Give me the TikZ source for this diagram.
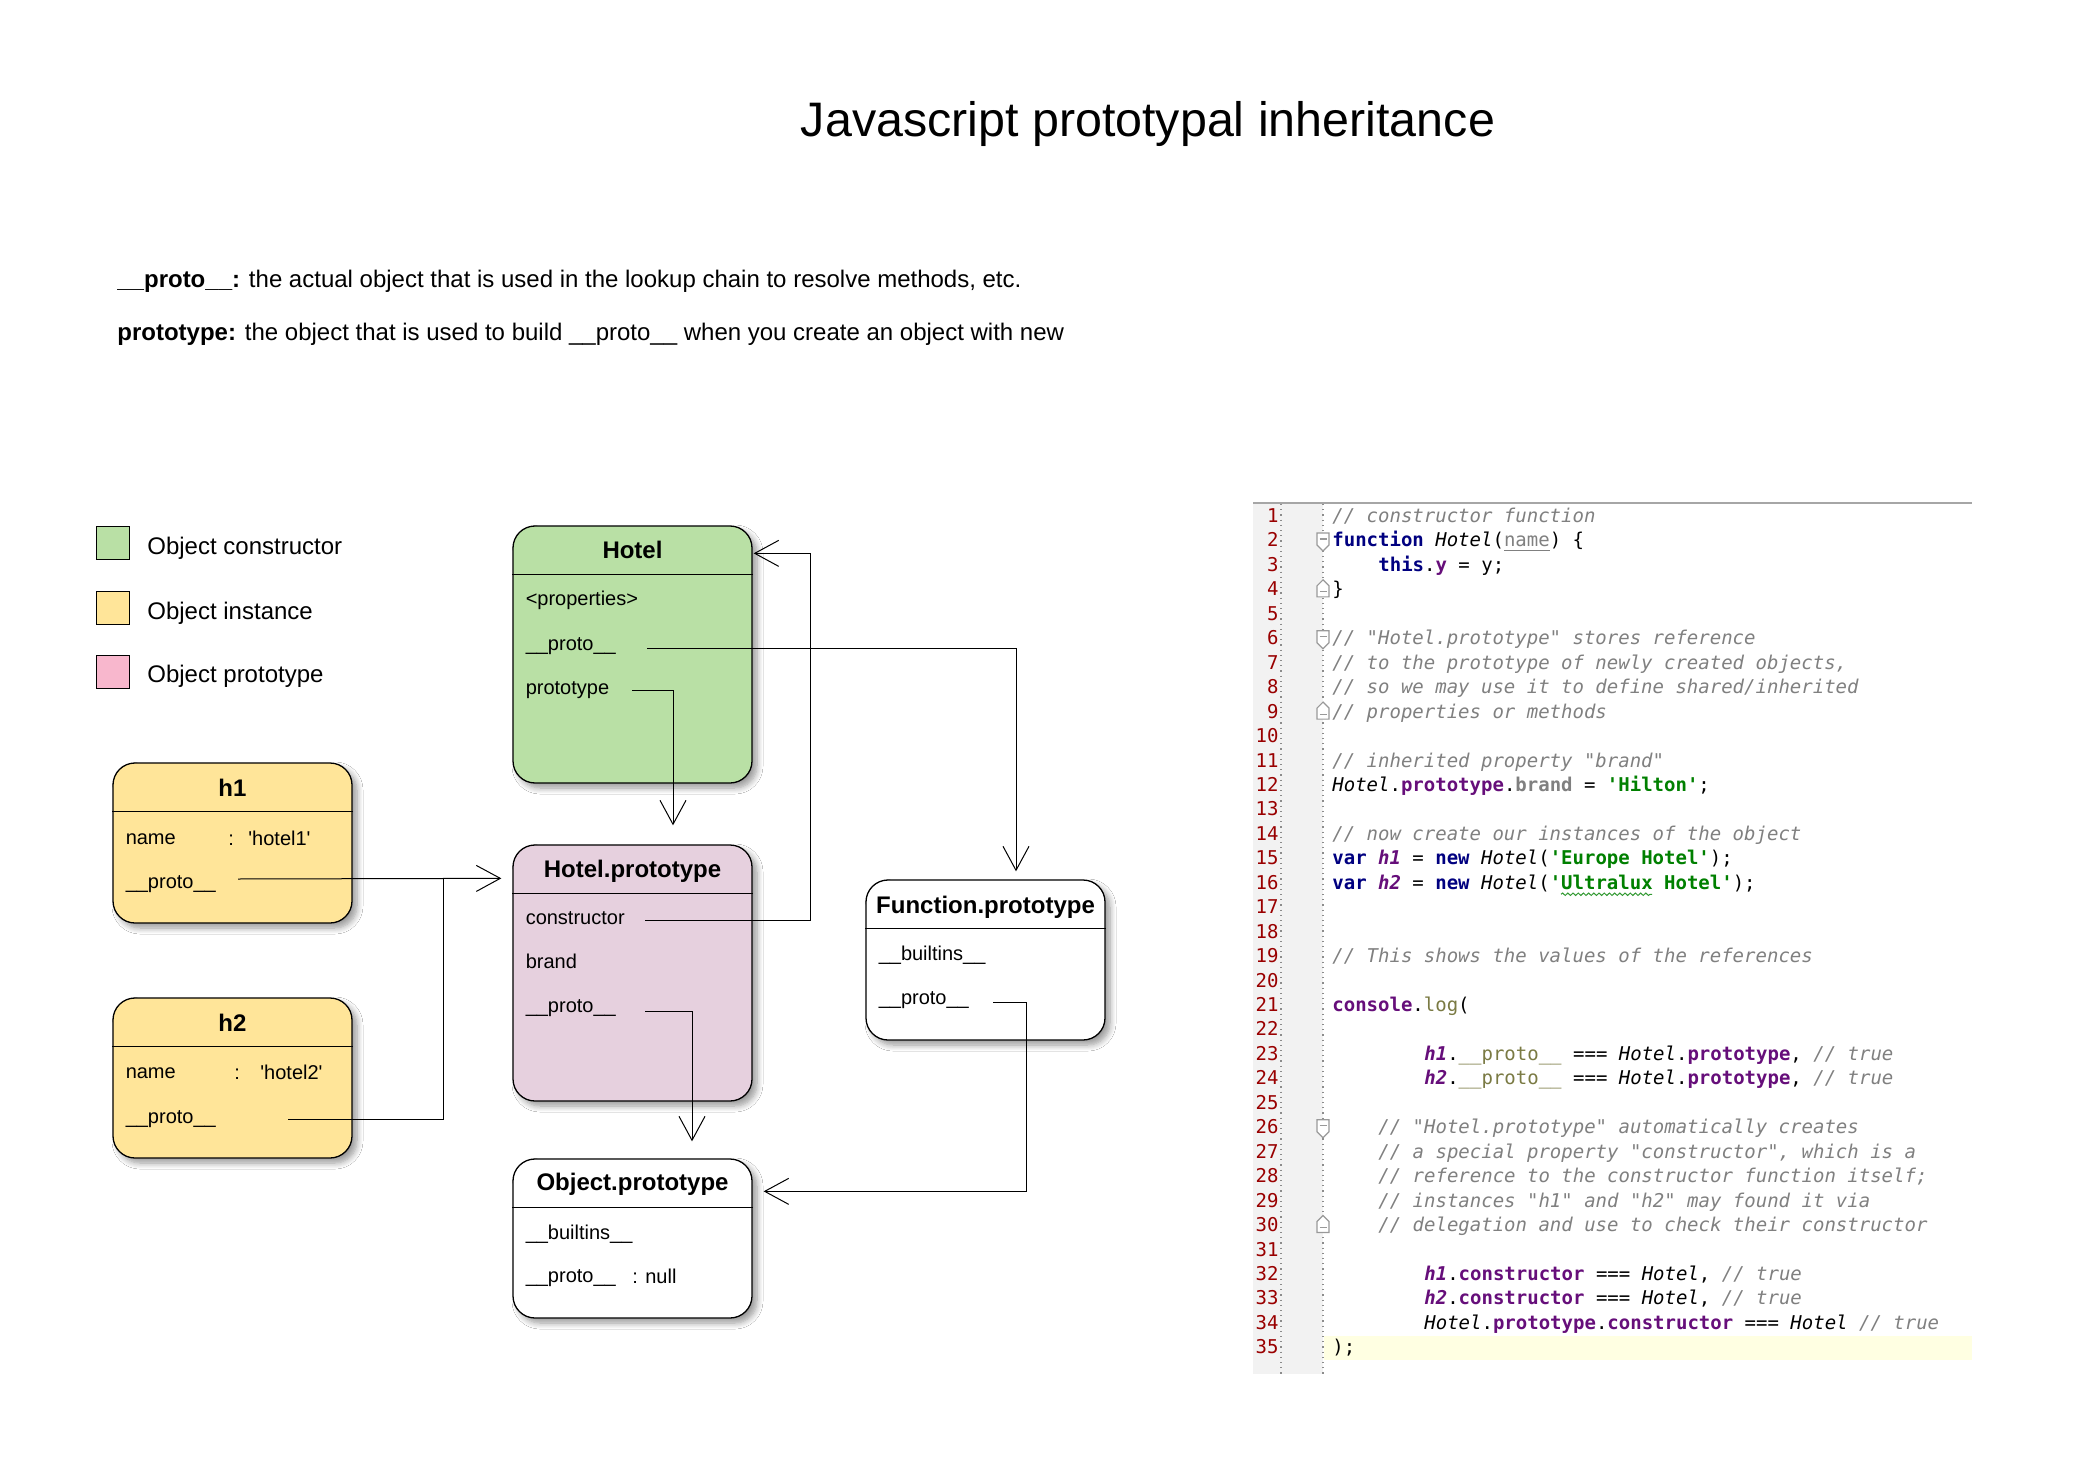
\documentclass[tikz,border=0pt]{standalone}
\usepackage{fontspec}
\setmainfont{Liberation Sans}
\setmonofont{DejaVu Sans Mono}
\usetikzlibrary{arrows.meta,calc,shadows.blur,decorations.pathmorphing}
\definecolor{hgreen}{HTML}{B9E0A5}
\definecolor{hyellow}{HTML}{FFE599}
\definecolor{hpink}{HTML}{E6D0DE}
\definecolor{lpink}{HTML}{F8B7CD}
\definecolor{ccmt}{HTML}{808080}
\definecolor{ckw}{HTML}{000080}
\definecolor{cpur}{HTML}{660E7A}
\definecolor{cstr}{HTML}{008000}
\definecolor{coli}{HTML}{7A7A43}
\definecolor{cnum}{HTML}{990000}
\definecolor{cgut}{HTML}{F2F2F2}
\definecolor{chl}{HTML}{FFFFE2}
\newcommand{\cdc}[1]{{\color{ccmt}\itshape #1}}
\newcommand{\cdk}[1]{{\color{ckw}\bfseries #1}}
\newcommand{\cdi}[1]{{\itshape #1}}
\newcommand{\cdp}[1]{{\color{cpur}\bfseries #1}}
\newcommand{\cdv}[1]{{\color{cpur}\bfseries\itshape #1}}
\newcommand{\cds}[1]{{\color{cstr}\bfseries #1}}
\newcommand{\cdo}[1]{{\color{coli}#1}}
\newcommand{\cdf}[1]{{\color{ccmt}\bfseries #1}}
\newcommand{\cdn}[1]{{\color{ccmt}\underline{#1}}}
\begin{document}
\begin{tikzpicture}[x=0.5pt,y=-0.5pt,
  box/.style={draw=black, line width=0.65pt, rounded corners=11pt, inner sep=0pt,
    minimum width=119.5pt,
    blur shadow={shadow xshift=2.5pt, shadow yshift=-2.5pt, shadow blur radius=3pt, shadow blur steps=8, shadow opacity=40}},
  btitle/.style={font=\fontsize{12}{14}\selectfont\bfseries, inner sep=0pt, anchor=base},
  brow/.style={font=\fontsize{10}{12}\selectfont, inner sep=0pt, anchor=base west},
  hline/.style={draw=black, line width=0.65pt},
  legsq/.style={draw=black, line width=0.5pt, minimum width=16.5pt, minimum height=16.5pt, inner sep=0pt},
  legtxt/.style={font=\fontsize{12}{14}\selectfont, inner sep=0pt, anchor=base west},
  line/.style={draw=black, line width=0.5pt},
  conn/.style={line, -{Straight Barb[length=12pt,width=13pt]}},
  codeln/.style={font=\ttfamily\fontsize{9.5}{11}\selectfont, inner sep=0pt, anchor=base west},
  lnum/.style={font=\ttfamily\fontsize{9.5}{11}\selectfont, text=cnum, inner sep=0pt, anchor=base east},
  fold/.style={draw=black!40, fill=white, line width=0.6pt}
]
\fill[white] (0,0) rectangle (2082,1460);
\useasboundingbox (0,0) rectangle (2082,1460);

% title and definitions
\node[font=\fontsize{24.2}{28}\selectfont, inner sep=0pt, anchor=base] (title) at (1148,137) {Javascript prototypal inheritance};
\node[font=\fontsize{12}{14}\selectfont, inner sep=0pt, anchor=base west] (def1) at (117,288) {\textbf{\_\_proto\_\_:} the actual object that is used in the lookup chain to resolve methods, etc.};
\node[font=\fontsize{12}{14}\selectfont, inner sep=0pt, anchor=base west] (def2) at (117,341) {\textbf{prototype:} the object that is used to build \_\_proto\_\_ when you create an object with new};

% legend
\node[legsq, fill=hgreen] (lg1) at (112.5,542.5) {};
\node[legsq, fill=hyellow] (lg2) at (112.5,608) {};
\node[legsq, fill=lpink] (lg3) at (112.5,671.5) {};
\node[legtxt] (lt1) at (147,554) {Object constructor};
\node[legtxt] (lt2) at (147,619) {Object instance};
\node[legtxt] (lt3) at (147,682) {Object prototype};

% boxes
\node[box, fill=hgreen, minimum height=128.5pt] (hotel) at (632.5,654.5) {};
\node[box, fill=hpink, minimum height=128pt] (hp) at (632.5,973) {};
\node[box, fill=hyellow, minimum height=80pt] (h1) at (232.5,843) {};
\node[box, fill=hyellow, minimum height=80pt] (h2) at (232.5,1078) {};
\node[box, fill=white, minimum height=80pt] (fnp) at (985.5,960) {};
\node[box, fill=white, minimum height=79.5pt] (op) at (632.5,1238.5) {};

\foreach \b in {hotel,hp,h1,h2,fnp,op}{
  \draw[hline] ($(\b.north west)+(0,49)$) -- ($(\b.north east)+(0,49)$);
}

% Hotel
\node[btitle] (hotel-t) at ($(hotel.north)+(0,33)$) {Hotel};
\node[brow] (hotel-r1) at ($(hotel.north west)+(13,80)$) {<properties>};
\node[brow] (hotel-r2) at ($(hotel.north west)+(13,125)$) {\_\_proto\_\_};
\node[brow] (hotel-r3) at ($(hotel.north west)+(13,169)$) {prototype};

% Hotel.prototype
\node[btitle] (hp-t) at ($(hp.north)+(0,33)$) {Hotel.prototype};
\node[brow] (hp-r1) at ($(hp.north west)+(13,80)$) {constructor};
\node[brow] (hp-r2) at ($(hp.north west)+(13,124)$) {brand};
\node[brow] (hp-r3) at ($(hp.north west)+(13,168)$) {\_\_proto\_\_};

% h1
\node[btitle] (h1-t) at ($(h1.north)+(0,34)$) {h1};
\node[brow] (h1-r1) at ($(h1.north west)+(13,82)$) {name};
\node[brow] (h1-c) at (228,845) {:};
\node[brow] (h1-v) at (248,845) {\textquotesingle hotel1\textquotesingle};
\node[brow] (h1-r2) at ($(h1.north west)+(13,126)$) {\_\_proto\_\_};

% h2
\node[btitle] (h2-t) at ($(h2.north)+(0,34)$) {h2};
\node[brow] (h2-r1) at ($(h2.north west)+(13,81)$) {name};
\node[brow] (h2-c) at (234,1079) {:};
\node[brow] (h2-v) at (260,1079) {\textquotesingle hotel2\textquotesingle};
\node[brow] (h2-r2) at ($(h2.north west)+(13,126)$) {\_\_proto\_\_};

% Function.prototype
\node[btitle] (fnp-t) at ($(fnp.north)+(0,34)$) {Function.prototype};
\node[brow] (fnp-r1) at ($(fnp.north west)+(13,81)$) {\_\_builtins\_\_};
\node[brow] (fnp-r2) at ($(fnp.north west)+(13,125)$) {\_\_proto\_\_};

% Object.prototype
\node[btitle] (op-t) at ($(op.north)+(0,32)$) {Object.prototype};
\node[brow] (op-r1) at ($(op.north west)+(13,81)$) {\_\_builtins\_\_};
\node[brow] (op-r2) at ($(op.north west)+(13,124)$) {\_\_proto\_\_};
\node[brow] (op-v) at (632,1283) {: null};

% connector start points
\coordinate (hotel-proto-out) at (647,648);
\coordinate (hotel-prot-out) at (632,690);
\coordinate (hp-ctor-out) at (645,920);
\coordinate (hp-proto-out) at (645,1011);
\coordinate (h1-proto-out) at (238,879);
\coordinate (h2-proto-out) at (288,1119);
\coordinate (join) at (443,879);
\coordinate (fn-proto-out) at (993,1002);

% connectors
\draw[conn] (hotel-proto-out) -| ($(fnp.north)+(30.5,-8)$);
\draw[conn] (hotel-prot-out) -| ($(hp.north)+(40.5,-19)$);
\draw[conn] (hp-ctor-out) -- ++(165,0) |- ($(hotel.north east)+(1,28)$);
\draw[conn] (h1-proto-out) -- ($(hp.north west)+(-11,34)$);
\draw[line] (h2-proto-out) -| (join);
\draw[conn] (hp-proto-out) -| ($(op.north)+(59.5,-17)$);
\draw[conn] (fn-proto-out) -- ++(33,0) |- ($(op.north east)+(11,33)$);

% ---------- code panel ----------
\fill[cgut] (1253,503) rectangle (1323,1374);
\fill[chl] (1324,1336) rectangle (1972,1360);
\draw[black!35, line width=0.8pt] (1253,503) -- (1972,503);
\draw[black!45, dotted, line width=0.6pt] (1281,504) -- (1281,1374);
\draw[black!45, dotted, line width=0.6pt] (1323,504) -- (1323,1374);

\foreach \i in {1,...,35}{
  \node[lnum] (n\i) at (1279,{522.5+24.45*(\i-1)}) {\i};
}
\foreach \k in {2,6,26}{
  \pgfmathsetmacro\cc{516.5+24.45*(\k-1)}
  \draw[fold] (1317,{\cc-8}) -- (1329,{\cc-8}) -- (1329,{\cc+4}) -- (1323,{\cc+10}) -- (1317,{\cc+4}) -- cycle;
  \draw[black!40, line width=0.6pt] (1319.5,{\cc-2}) -- (1326.5,{\cc-2});
}
\foreach \k in {4,9,30}{
  \pgfmathsetmacro\cc{516.5+24.45*(\k-1)}
  \draw[fold] (1323,{\cc-10}) -- (1329,{\cc-4}) -- (1329,{\cc+7}) -- (1317,{\cc+7}) -- (1317,{\cc-4}) -- cycle;
  \draw[black!40, line width=0.6pt] (1319.5,{\cc+2}) -- (1326.5,{\cc+2});
}

\node[codeln] (c1) at (1332,{522.5+24.45*0}) {\cdc{// constructor function}};
\node[codeln] (c2) at (1332,{522.5+24.45*1}) {\cdk{function} \cdi{Hotel}(\cdn{name}) \{};
\node[codeln] (c3) at (1378,{522.5+24.45*2}) {\cdk{this}.\cdp{y} = y;};
\node[codeln] (c4) at (1332,{522.5+24.45*3}) {\}};
\node[codeln] (c6) at (1332,{522.5+24.45*5}) {\cdc{// "Hotel.prototype" stores reference}};
\node[codeln] (c7) at (1332,{522.5+24.45*6}) {\cdc{// to the prototype of newly created objects,}};
\node[codeln] (c8) at (1332,{522.5+24.45*7}) {\cdc{// so we may use it to define shared/inherited}};
\node[codeln] (c9) at (1332,{522.5+24.45*8}) {\cdc{// properties or methods}};
\node[codeln] (c11) at (1332,{522.5+24.45*10}) {\cdc{// inherited property "brand"}};
\node[codeln] (c12) at (1332,{522.5+24.45*11}) {\cdi{Hotel}.\cdp{prototype}.\cdf{brand} = \cds{'Hilton'};};
\node[codeln] (c14) at (1332,{522.5+24.45*13}) {\cdc{// now create our instances of the object}};
\node[codeln] (c15) at (1332,{522.5+24.45*14}) {\cdk{var} \cdv{h1} = \cdk{new} \cdi{Hotel}(\cds{'Europe Hotel'});};
\node[codeln] (c16) at (1332,{522.5+24.45*15}) {\cdk{var} \cdv{h2} = \cdk{new} \cdi{Hotel}(\cds{'Ultralux Hotel'});};
\draw[cstr!80, line width=0.5pt, decorate, decoration={snake, amplitude=0.6pt, segment length=2.6pt}] (1561,{522.5+24.45*15+5}) -- (1652,{522.5+24.45*15+5});
\node[codeln] (c19) at (1332,{522.5+24.45*18}) {\cdc{// This shows the values of the references}};
\node[codeln] (c21) at (1332,{522.5+24.45*20}) {\cdp{console}.\cdo{log}(};
\node[codeln] (c23) at (1424,{522.5+24.45*22}) {\cdv{h1}.\cdo{\_\_proto\_\_} === \cdi{Hotel}.\cdp{prototype}, \cdc{// true}};
\node[codeln] (c24) at (1424,{522.5+24.45*23}) {\cdv{h2}.\cdo{\_\_proto\_\_} === \cdi{Hotel}.\cdp{prototype}, \cdc{// true}};
\node[codeln] (c26) at (1378,{522.5+24.45*25}) {\cdc{// "Hotel.prototype" automatically creates}};
\node[codeln] (c27) at (1378,{522.5+24.45*26}) {\cdc{// a special property "constructor", which is a}};
\node[codeln] (c28) at (1378,{522.5+24.45*27}) {\cdc{// reference to the constructor function itself;}};
\node[codeln] (c29) at (1378,{522.5+24.45*28}) {\cdc{// instances "h1" and "h2" may found it via}};
\node[codeln] (c30) at (1378,{522.5+24.45*29}) {\cdc{// delegation and use to check their constructor}};
\node[codeln] (c32) at (1424,{522.5+24.45*31}) {\cdv{h1}.\cdp{constructor} === \cdi{Hotel}, \cdc{// true}};
\node[codeln] (c33) at (1424,{522.5+24.45*32}) {\cdv{h2}.\cdp{constructor} === \cdi{Hotel}, \cdc{// true}};
\node[codeln] (c34) at (1424,{522.5+24.45*33}) {\cdi{Hotel}.\cdp{prototype}.\cdp{constructor} === \cdi{Hotel} \cdc{// true}};
\node[codeln] (c35) at (1332,{522.5+24.45*34}) {);};
\end{tikzpicture}
\end{document}
